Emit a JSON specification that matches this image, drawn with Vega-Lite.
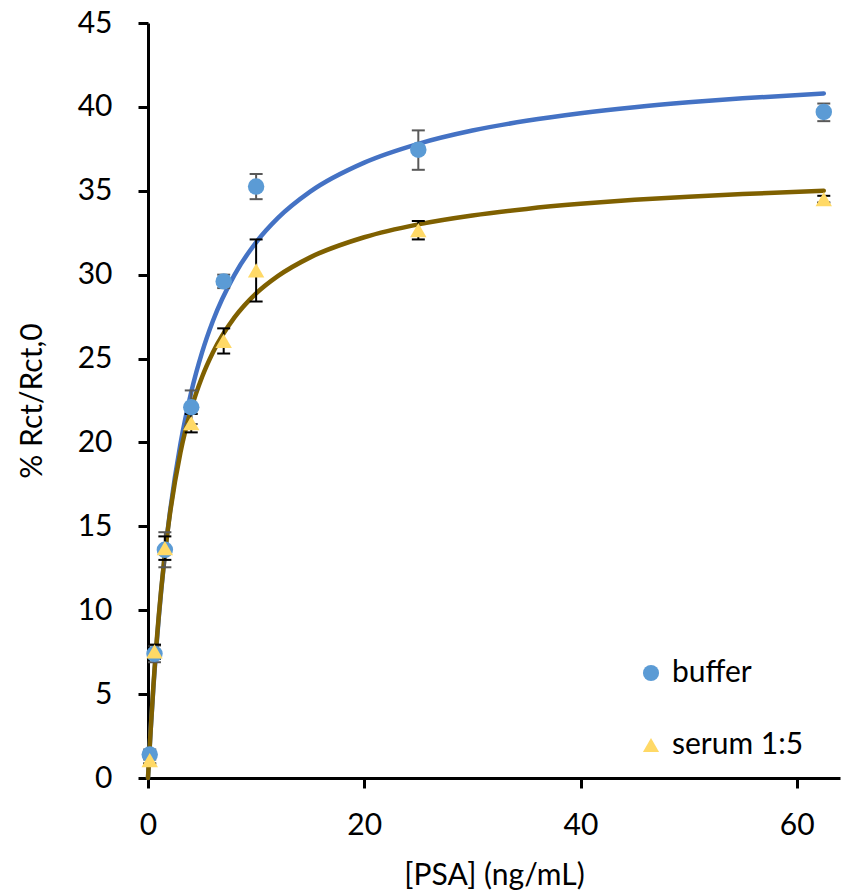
{
  "$schema": "https://vega.github.io/schema/vega-lite/v6.json",
  "autosize": {"type": "none"},
  "padding": {"left": 148, "top": 23, "right": 2, "bottom": 114},
  "width": 692,
  "height": 755,
  "background": "white",
  "config": {
    "view": {"stroke": null},
    "font": "Lato",
    "axis": {
      "grid": false,
      "domainColor": "black",
      "domainWidth": 3,
      "tickColor": "black",
      "tickWidth": 3,
      "tickSize": 10,
      "labelFontSize": 30,
      "labelColor": "black",
      "labelFlush": false,
      "titleFontSize": 30,
      "titleFontWeight": "normal",
      "titleColor": "black",
      "labelFont": "Lato",
      "titleFont": "Lato"
    },
    "legend": {
      "labelFontSize": 30,
      "labelColor": "black",
      "labelFont": "Lato"
    }
  },
  "datasets": {
    "pts": [
      {"series": "buffer", "conc": 0.16, "resp": 1.4, "lo": 1.1, "hi": 1.7},
      {"series": "buffer", "conc": 0.6, "resp": 7.4, "lo": 6.9, "hi": 7.9},
      {"series": "buffer", "conc": 1.56, "resp": 13.6, "lo": 12.56, "hi": 14.65},
      {"series": "buffer", "conc": 4, "resp": 22.1, "lo": 21.1, "hi": 23.1},
      {"series": "buffer", "conc": 7, "resp": 29.6, "lo": 29.2, "hi": 30.0},
      {"series": "buffer", "conc": 10, "resp": 35.25, "lo": 34.5, "hi": 36.0},
      {"series": "buffer", "conc": 25, "resp": 37.45, "lo": 36.25, "hi": 38.6},
      {"series": "buffer", "conc": 62.5, "resp": 39.7, "lo": 39.15, "hi": 40.2},
      {"series": "serum 1:5", "conc": 0.16, "resp": 1.07, "lo": 0.87, "hi": 1.27},
      {"series": "serum 1:5", "conc": 0.6, "resp": 7.55, "lo": 7.1, "hi": 7.95},
      {"series": "serum 1:5", "conc": 1.56, "resp": 13.7, "lo": 13.0, "hi": 14.4},
      {"series": "serum 1:5", "conc": 4, "resp": 21.15, "lo": 20.6, "hi": 21.7},
      {"series": "serum 1:5", "conc": 7, "resp": 26.05, "lo": 25.3, "hi": 26.8},
      {"series": "serum 1:5", "conc": 10, "resp": 30.25, "lo": 28.4, "hi": 32.1},
      {"series": "serum 1:5", "conc": 25, "resp": 32.65, "lo": 32.1, "hi": 33.2},
      {"series": "serum 1:5", "conc": 62.5, "resp": 34.5, "lo": 34.3, "hi": 34.7}
    ],
    "fit": [
      {"series": "buffer", "conc": 0, "resp": 0},
      {"series": "buffer", "conc": 0.1, "resp": 1.2},
      {"series": "buffer", "conc": 0.25, "resp": 2.88},
      {"series": "buffer", "conc": 0.5, "resp": 5.4},
      {"series": "buffer", "conc": 1, "resp": 9.59},
      {"series": "buffer", "conc": 1.5, "resp": 12.95},
      {"series": "buffer", "conc": 2, "resp": 15.69},
      {"series": "buffer", "conc": 3, "resp": 19.91},
      {"series": "buffer", "conc": 4, "resp": 23.01},
      {"series": "buffer", "conc": 5, "resp": 25.37},
      {"series": "buffer", "conc": 6, "resp": 27.24},
      {"series": "buffer", "conc": 8, "resp": 29.99},
      {"series": "buffer", "conc": 10, "resp": 31.93},
      {"series": "buffer", "conc": 12, "resp": 33.37},
      {"series": "buffer", "conc": 15, "resp": 34.95},
      {"series": "buffer", "conc": 20, "resp": 36.68},
      {"series": "buffer", "conc": 25, "resp": 37.8},
      {"series": "buffer", "conc": 30, "resp": 38.59},
      {"series": "buffer", "conc": 35, "resp": 39.17},
      {"series": "buffer", "conc": 40, "resp": 39.62},
      {"series": "buffer", "conc": 45, "resp": 39.98},
      {"series": "buffer", "conc": 50, "resp": 40.27},
      {"series": "buffer", "conc": 55, "resp": 40.51},
      {"series": "buffer", "conc": 62.5, "resp": 40.8},
      {"series": "serum 1:5", "conc": 0, "resp": 0},
      {"series": "serum 1:5", "conc": 0.1, "resp": 1.2},
      {"series": "serum 1:5", "conc": 0.25, "resp": 2.9},
      {"series": "serum 1:5", "conc": 0.5, "resp": 5.5},
      {"series": "serum 1:5", "conc": 1, "resp": 9.7},
      {"series": "serum 1:5", "conc": 1.5, "resp": 13.0},
      {"series": "serum 1:5", "conc": 2, "resp": 15.6},
      {"series": "serum 1:5", "conc": 3, "resp": 19.4},
      {"series": "serum 1:5", "conc": 4, "resp": 22.0},
      {"series": "serum 1:5", "conc": 5, "resp": 23.9},
      {"series": "serum 1:5", "conc": 6, "resp": 25.36},
      {"series": "serum 1:5", "conc": 8, "resp": 27.45},
      {"series": "serum 1:5", "conc": 10, "resp": 28.88},
      {"series": "serum 1:5", "conc": 12, "resp": 29.91},
      {"series": "serum 1:5", "conc": 15, "resp": 31.03},
      {"series": "serum 1:5", "conc": 20, "resp": 32.23},
      {"series": "serum 1:5", "conc": 25, "resp": 33.0},
      {"series": "serum 1:5", "conc": 30, "resp": 33.53},
      {"series": "serum 1:5", "conc": 35, "resp": 33.92},
      {"series": "serum 1:5", "conc": 40, "resp": 34.22},
      {"series": "serum 1:5", "conc": 45, "resp": 34.46},
      {"series": "serum 1:5", "conc": 50, "resp": 34.65},
      {"series": "serum 1:5", "conc": 55, "resp": 34.81},
      {"series": "serum 1:5", "conc": 62.5, "resp": 35.0}
    ]
  },
  "layer": [
    {
      "data": {"name": "fit"},
      "transform": [{"filter": "datum.series == 'buffer'"}],
      "mark": {"type": "line", "strokeWidth": 4.5, "interpolate": "monotone", "strokeCap": "round", "color": "#4472C4"},
      "encoding": {
        "x": {"field": "conc", "type": "quantitative", "scale": {"domain": [0, 64], "nice": false},
              "axis": {"values": [0, 20, 40, 60], "title": "[PSA] (ng/mL)", "labelPadding": 22, "titlePadding": 20}},
        "y": {"field": "resp", "type": "quantitative", "scale": {"domain": [0, 45], "nice": false},
              "axis": {"values": [0, 5, 10, 15, 20, 25, 30, 35, 40, 45], "title": "% Rct/Rct,0", "labelPadding": 26, "titlePadding": 30}}
      }
    },
    {
      "data": {"name": "fit"},
      "transform": [{"filter": "datum.series == 'serum 1:5'"}],
      "mark": {"type": "line", "strokeWidth": 4.5, "interpolate": "monotone", "strokeCap": "round", "color": "#7F6000"},
      "encoding": {
        "x": {"field": "conc", "type": "quantitative"},
        "y": {"field": "resp", "type": "quantitative"}
      }
    },
    {
      "data": {"name": "pts"},
      "transform": [{"filter": "datum.series == 'buffer'"}],
      "mark": {"type": "rule", "strokeWidth": 2, "color": "#595959"},
      "encoding": {
        "x": {"field": "conc", "type": "quantitative"},
        "y": {"field": "lo", "type": "quantitative"},
        "y2": {"field": "hi"}
      }
    },
    {
      "data": {"name": "pts"},
      "transform": [{"filter": "datum.series == 'buffer'"}],
      "mark": {"type": "rule", "strokeWidth": 2, "xOffset": -6.5, "x2Offset": 6.5, "color": "#595959"},
      "encoding": {
        "x": {"field": "conc", "type": "quantitative"},
        "x2": {"field": "conc"},
        "y": {"field": "lo", "type": "quantitative"}
      }
    },
    {
      "data": {"name": "pts"},
      "transform": [{"filter": "datum.series == 'buffer'"}],
      "mark": {"type": "rule", "strokeWidth": 2, "xOffset": -6.5, "x2Offset": 6.5, "color": "#595959"},
      "encoding": {
        "x": {"field": "conc", "type": "quantitative"},
        "x2": {"field": "conc"},
        "y": {"field": "hi", "type": "quantitative"}
      }
    },
    {
      "data": {"name": "pts"},
      "transform": [{"filter": "datum.series == 'serum 1:5'"}],
      "mark": {"type": "rule", "strokeWidth": 2, "color": "#000000"},
      "encoding": {
        "x": {"field": "conc", "type": "quantitative"},
        "y": {"field": "lo", "type": "quantitative"},
        "y2": {"field": "hi"}
      }
    },
    {
      "data": {"name": "pts"},
      "transform": [{"filter": "datum.series == 'serum 1:5'"}],
      "mark": {"type": "rule", "strokeWidth": 2, "xOffset": -6.5, "x2Offset": 6.5, "color": "#000000"},
      "encoding": {
        "x": {"field": "conc", "type": "quantitative"},
        "x2": {"field": "conc"},
        "y": {"field": "lo", "type": "quantitative"}
      }
    },
    {
      "data": {"name": "pts"},
      "transform": [{"filter": "datum.series == 'serum 1:5'"}],
      "mark": {"type": "rule", "strokeWidth": 2, "xOffset": -6.5, "x2Offset": 6.5, "color": "#000000"},
      "encoding": {
        "x": {"field": "conc", "type": "quantitative"},
        "x2": {"field": "conc"},
        "y": {"field": "hi", "type": "quantitative"}
      }
    },
    {
      "data": {"name": "pts"},
      "mark": {"type": "point", "filled": true, "opacity": 1, "size": 270},
      "encoding": {
        "x": {"field": "conc", "type": "quantitative"},
        "y": {"field": "resp", "type": "quantitative"},
        "color": {"field": "series", "type": "nominal",
                  "scale": {"domain": ["buffer", "serum 1:5"], "range": ["#5B9BD5", "#FFD966"]},
                  "legend": {"title": null, "orient": "none", "legendX": 488, "legendY": 635, "padding": 0,
                             "rowPadding": 42, "labelOffset": 6, "symbolSize": 260, "symbolStrokeWidth": 0, "symbolOpacity": 1}},
        "shape": {"field": "series", "type": "nominal",
                  "scale": {"domain": ["buffer", "serum 1:5"], "range": ["circle", "triangle-up"]}}
      }
    }
  ]
}
